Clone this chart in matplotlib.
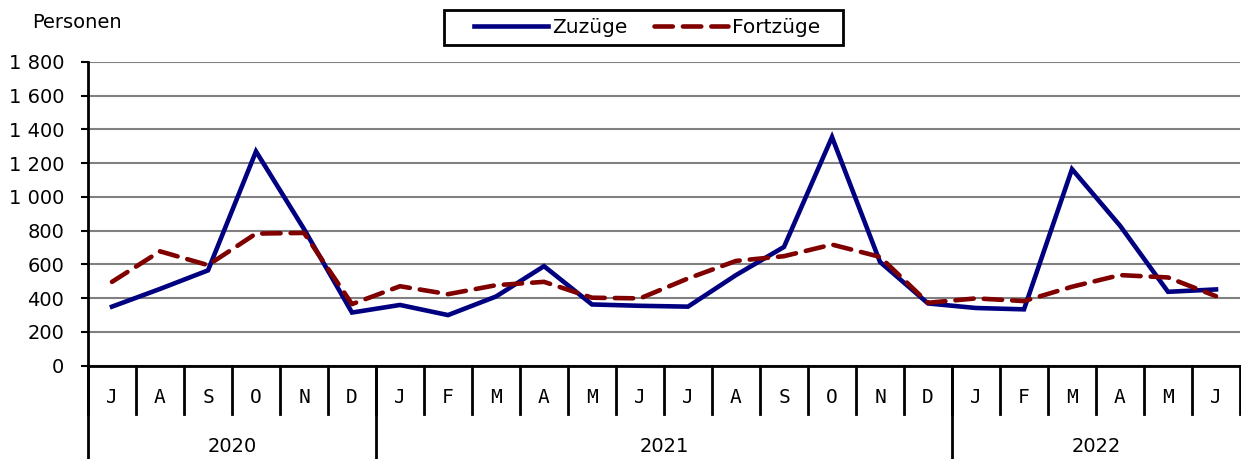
import numpy as np
import matplotlib.pyplot as plt
from matplotlib.patches import Rectangle
from matplotlib.ticker import FuncFormatter

# monthly moves, June 2020 .. June 2022
months = ['J', 'A', 'S', 'O', 'N', 'D',
          'J', 'F', 'M', 'A', 'M', 'J', 'J', 'A', 'S', 'O', 'N', 'D',
          'J', 'F', 'M', 'A', 'M', 'J']
years = ['2020', '2021', '2022']
months_per_year = [6, 12, 6]

zuzuege = [350, 455, 565, 1270, 810, 315,
           360, 300, 410, 590, 363, 355, 350, 537, 704, 1355, 615, 369,
           342, 334, 1165, 830, 438, 452]
fortzuege = [497, 678, 596, 783, 787, 365,
             471, 424, 477, 497, 403, 399, 517, 621, 649, 718, 645, 373,
             399, 383, 468, 537, 523, 412]

fig = plt.figure(figsize=(12.41, 4.59), dpi=100)
ax = fig.add_axes([88/1241, 1 - 365.7/459, 1152/1241, (365.7 - 62)/459])

x = np.arange(len(months))
ax.plot(x, zuzuege, color='#000080', lw=3.3, label='Zuzüge',
        solid_joinstyle='miter', zorder=3)
ax.plot(x, fortzuege, color='#800000', lw=3.3, ls=(0, (4, 2.2)),
        label='Fortzüge', dash_capstyle='round', zorder=4)

ax.set_xlim(-0.5, len(months) - 0.5)
ax.set_ylim(0, 1800)
ax.set_yticks(np.arange(0, 1801, 200))
ax.yaxis.set_major_formatter(FuncFormatter(
    lambda v, p: f'{int(v):,}'.replace(',', ' ')))
ax.tick_params(axis='y', labelsize=14, length=5, width=1.5, pad=12)
ax.set_xticks([])
ax.grid(axis='y', color='#808080', lw=1.5)
ax.set_axisbelow(True)
for side in ['top', 'right']:
    ax.spines[side].set_visible(False)
ax.spines['left'].set_linewidth(2)
ax.spines['bottom'].set_linewidth(2)

# category axis: months and years below
trans = ax.get_xaxis_transform()
for i, m in enumerate(months):
    ax.text(i, -0.105, m, transform=trans, ha='center', va='center',
            fontsize=14, family='DejaVu Sans Mono')
for b in range(len(months) + 1):
    ax.plot([b - 0.5, b - 0.5], [0, -0.16], transform=trans, color='black',
            lw=2, clip_on=False)

start = 0
for yr, n in zip(years, months_per_year):
    ax.text(start + n / 2 - 0.5, -0.265, yr, transform=trans, ha='center',
            va='center', fontsize=14)
    ax.plot([start - 0.5, start - 0.5], [0, -0.32], transform=trans,
            color='black', lw=2, clip_on=False)
    start += n

fig.text(32/1241, 1 - 22/459, 'Personen', fontsize=14, va='center')

# legend without frame, boxed by a separate rectangle
leg = fig.legend(loc='center', bbox_to_anchor=(647/1241, 1 - 27.5/459),
                 ncol=2, fontsize=14.5, frameon=False,
                 handlelength=3.7, handletextpad=0.2, columnspacing=1.3,
                 borderpad=0, borderaxespad=0)
fig.patches.append(Rectangle((444/1241, 1 - 45/459), 399/1241, 35/459,
                             transform=fig.transFigure, fill=False,
                             edgecolor='black', lw=2))

fig.savefig('out.png', dpi=100)
